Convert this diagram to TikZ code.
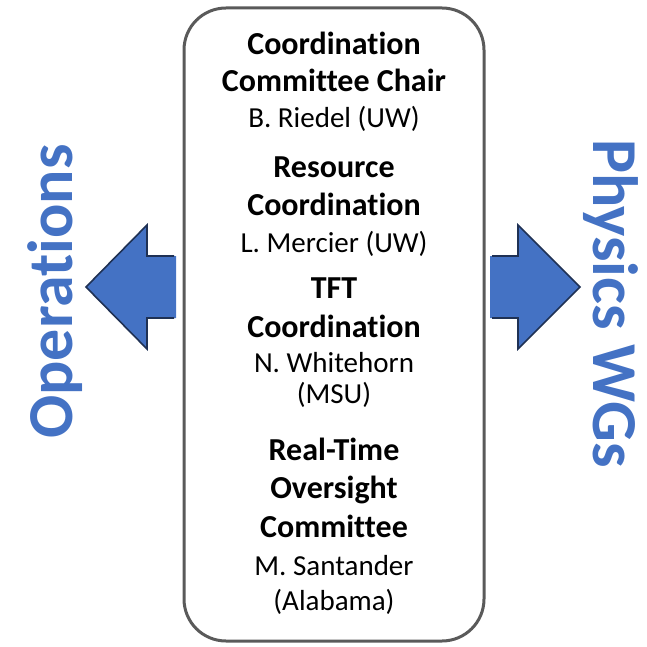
\documentclass[tikz,border=0pt]{standalone}
\usepackage{fontspec}
\setmainfont{Carlito}[Ligatures=NoCommon]
\definecolor{arrowblue}{HTML}{4472C4}
\definecolor{arrowedge}{HTML}{1F3154}
\definecolor{boxgray}{HTML}{5A5A5A}
\tikzset{
  head/.style={font=\fontsize{32}{37}\selectfont\bfseries, anchor=base, inner sep=0pt},
  person/.style={font=\fontsize{29}{34}\selectfont, anchor=base, inner sep=0pt},
  sidelabel/.style={font=\fontsize{64}{70}\selectfont\bfseries, text=arrowblue, anchor=base, inner sep=0pt},
  arrowfill/.style={fill=arrowblue, draw=none},
  arrowline/.style={draw=arrowedge, line width=1.6pt, line join=miter},
}
\begin{document}
\begin{tikzpicture}[x=1pt,y=-1pt]
\useasboundingbox (0,0) rectangle (646,647);
% arrows
\fill[arrowfill] (176,256) -- (147,256) -- (147,225) -- (86,287) -- (147,349) -- (147,318) -- (176,318) -- cycle;
\draw[arrowline] (174,256) -- (147,256) -- (147,225) -- (86,287) -- (147,349) -- (147,318) -- (174,318);
\fill[arrowfill] (490,256) -- (518,256) -- (518,225) -- (580,287) -- (518,349) -- (518,318) -- (490,318) -- cycle;
\draw[arrowline] (492,256) -- (518,256) -- (518,225) -- (580,287) -- (518,349) -- (518,318) -- (492,318);
% central box
\node[draw=boxgray, line width=3pt, rounded corners=42pt, fill=white, minimum width=300pt, minimum height=633pt, inner sep=0pt] (box) at (334,324.5) {};
% texts
\node[head] (t1) at (334,55) {Coordination};
\node[head] (t2) at (334,92) {Committee Chair};
\node[person] (p1) at (334,128) {B. Riedel (UW)};
\node[head] (t3) at (334,177) {Resource};
\node[head] (t4) at (334,215) {Coordination};
\node[person] (p2) at (334,252) {L. Mercier (UW)};
\node[head] (t5) at (334,298) {TFT};
\node[head] (t6) at (334,337) {Coordination};
\node[person] (p3) at (334,372) {N. Whitehorn};
\node[person] (p4) at (334,403) {(MSU)};
\node[head] (t7) at (334,460) {Real-Time};
\node[head] (t8) at (334,498) {Oversight};
\node[head] (t9) at (334,537) {Committee};
\node[person] (p5) at (334,575) {M. Santander};
\node[person] (p6) at (334,610) {(Alabama)};
% side labels
\node[sidelabel, rotate=90] (ops) at (72,291.5) {Operations};
\node[sidelabel, rotate=-90] (phys) at (593,303.5) {Physics WGs};
\end{tikzpicture}
\end{document}
